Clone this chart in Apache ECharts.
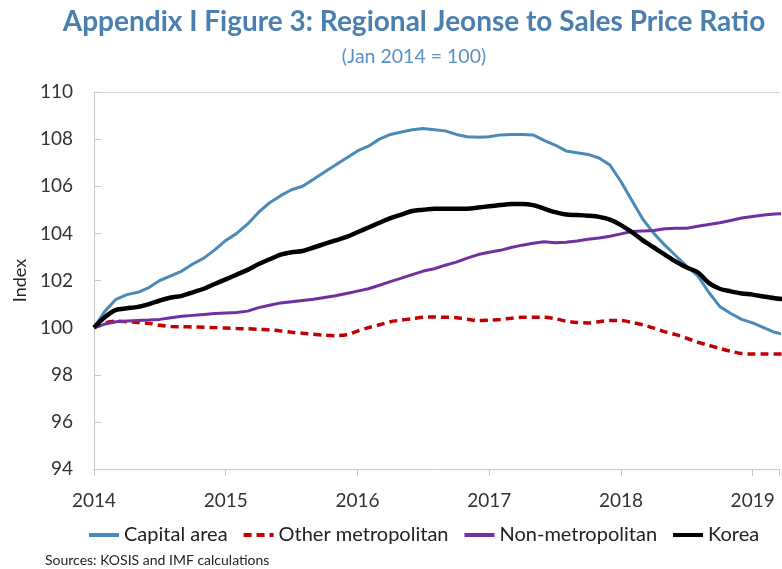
<!DOCTYPE html>
<html>
<head>
<meta charset="utf-8">
<script src="https://cdn.jsdelivr.net/npm/echarts@6/dist/echarts.min.js"></script>
<style>html,body{margin:0;padding:0;background:#fff;}#chart{width:782px;height:569px;}</style>
</head>
<body>
<div id="chart"></div>
<script>
// Monthly data, Jan 2014 onward
const startYear = 2014;
const seriesNames = ['Capital area', 'Other metropolitan', 'Non-metropolitan', 'Korea'];
const capitalArea = [100.0,100.7,101.2,101.4,101.5,101.7,102.0,102.2,102.4,102.7,102.95,103.3,103.7,104.0,104.4,104.9,105.3,105.6,105.85,106.0,106.3,106.6,106.9,107.2,107.5,107.7,108.0,108.2,108.3,108.4,108.45,108.4,108.35,108.2,108.1,108.08,108.1,108.18,108.2,108.2,108.18,107.95,107.75,107.5,107.42,107.35,107.2,106.9,106.2,105.4,104.6,104.0,103.5,103.05,102.6,102.2,101.5,100.9,100.6,100.35,100.2,100.0,99.8,99.7];
const otherMetro = [100.0,100.2,100.27,100.25,100.22,100.18,100.1,100.05,100.04,100.03,100.02,100.0,99.98,99.96,99.95,99.93,99.9,99.86,99.8,99.76,99.72,99.68,99.66,99.7,99.85,100.0,100.12,100.25,100.32,100.38,100.44,100.45,100.44,100.42,100.36,100.3,100.32,100.34,100.4,100.44,100.44,100.44,100.38,100.28,100.22,100.2,100.25,100.3,100.3,100.22,100.12,99.98,99.82,99.7,99.55,99.38,99.25,99.12,99.0,98.9,98.88,98.88,98.88,98.88];
const nonMetro = [100.0,100.15,100.25,100.28,100.3,100.32,100.35,100.42,100.48,100.52,100.56,100.6,100.62,100.64,100.7,100.85,100.95,101.05,101.1,101.15,101.2,101.28,101.35,101.45,101.55,101.65,101.8,101.95,102.1,102.25,102.4,102.5,102.65,102.78,102.95,103.1,103.2,103.28,103.4,103.5,103.58,103.64,103.6,103.62,103.68,103.75,103.8,103.88,103.98,104.08,104.1,104.12,104.2,104.22,104.22,104.3,104.38,104.45,104.55,104.65,104.72,104.78,104.82,104.85];
const korea = [100.0,100.45,100.75,100.82,100.88,101.0,101.15,101.28,101.35,101.5,101.65,101.85,102.05,102.25,102.45,102.7,102.9,103.1,103.2,103.25,103.4,103.55,103.7,103.85,104.05,104.25,104.45,104.65,104.8,104.95,105.0,105.05,105.05,105.05,105.05,105.1,105.15,105.2,105.25,105.25,105.2,105.05,104.9,104.8,104.78,104.75,104.7,104.58,104.35,104.05,103.7,103.4,103.1,102.8,102.55,102.35,101.9,101.65,101.54,101.45,101.4,101.32,101.25,101.2];
const yTicks = [94, 96, 98, 100, 102, 104, 106, 108, 110];
const xYears = [2014, 2015, 2016, 2017, 2018, 2019];

function toPairs(arr) { return arr.map((v, i) => [startYear + i / 12, v]); }

const chart = echarts.init(document.getElementById('chart'), null, {renderer: 'canvas'});
const FONT = 'Lato';
const X_MIN = 2014, X_MAX = 2019.2;
const AXIS_GRAY = '#c8c8c8';
const option = {
  animation: false,
  backgroundColor: '#ffffff',
  textStyle: {fontFamily: FONT},
  title: [
    {text: 'Appendix I Figure 3: Regional Jeonse to Sales Price Ratio', left: 414, top: 8, textAlign: 'center', padding: 0,
     textStyle: {fontFamily: FONT, fontSize: 28, fontWeight: 'bold', color: '#4a7fb0'}},
    {text: '(Jan 2014 = 100)', left: 414, top: 47, textAlign: 'center', padding: 0,
     textStyle: {fontFamily: FONT, fontSize: 19.5, fontWeight: 'normal', color: '#5b90c6'}},
    {text: 'Sources: KOSIS and IMF calculations', left: 45, top: 553, padding: 0,
     textStyle: {fontFamily: FONT, fontSize: 14, fontWeight: 'normal', color: '#222'}}
  ],
  grid: {left: 94, top: 92, bottom: 100, right: 0, show: false, containLabel: false},
  legend: {
    left: 87, top: 525, padding: 0, itemWidth: 30, itemHeight: 12, itemGap: 14,
    itemStyle: {opacity: 0},
    lineStyle: {width: 4},
    textStyle: {fontFamily: FONT, fontSize: 20, color: '#222'},
    data: seriesNames
  },
  xAxis: [{
    type: 'value', min: X_MIN, max: X_MAX, interval: 1,
    axisLine: {show: true, lineStyle: {color: AXIS_GRAY, width: 1}},
    axisTick: {show: true, inside: false, length: 7, lineStyle: {color: AXIS_GRAY}},
    splitLine: {show: false},
    axisLabel: {fontFamily: FONT, fontSize: 19, color: '#333', margin: 22,
      formatter: v => (xYears.indexOf(Math.round(v * 1000) / 1000) >= 0 ? String(v) : '')}
  }, {
    type: 'value', position: 'top', min: X_MIN, max: X_MAX, interval: 1,
    axisLine: {show: true, lineStyle: {color: '#d4d4d4', width: 1}},
    axisTick: {show: false}, axisLabel: {show: false}, splitLine: {show: false}
  }],
  yAxis: {
    type: 'value', min: yTicks[0], max: yTicks[yTicks.length - 1], interval: 2,
    name: 'Index', nameLocation: 'middle', nameGap: 63,
    nameTextStyle: {fontFamily: FONT, fontSize: 18, color: '#222'},
    axisLine: {show: true, lineStyle: {color: AXIS_GRAY, width: 1}},
    axisTick: {show: true, inside: true, length: 7, lineStyle: {color: AXIS_GRAY}},
    splitLine: {show: false},
    axisLabel: {fontFamily: FONT, fontSize: 19, color: '#333', margin: 21}
  },
  series: [
    {name: seriesNames[0], type: 'line', data: toPairs(capitalArea), symbol: 'none', clip: true,
     lineStyle: {color: '#4a8ab9', width: 3}, itemStyle: {color: '#4a8ab9'}},
    {name: seriesNames[1], type: 'line', data: toPairs(otherMetro), symbol: 'none', clip: true, smooth: 0.3,
     lineStyle: {color: '#c00000', width: 3.5, type: [8, 5]}, itemStyle: {color: '#c00000'}},
    {name: seriesNames[2], type: 'line', data: toPairs(nonMetro), symbol: 'none', clip: true,
     lineStyle: {color: '#7030a0', width: 3}, itemStyle: {color: '#7030a0'}},
    {name: seriesNames[3], type: 'line', data: toPairs(korea), symbol: 'none', clip: true, smooth: 0.3,
     lineStyle: {color: '#000000', width: 4.5}, itemStyle: {color: '#000000'}}
  ]
};
chart.setOption(option);
</script>
</body>
</html>
